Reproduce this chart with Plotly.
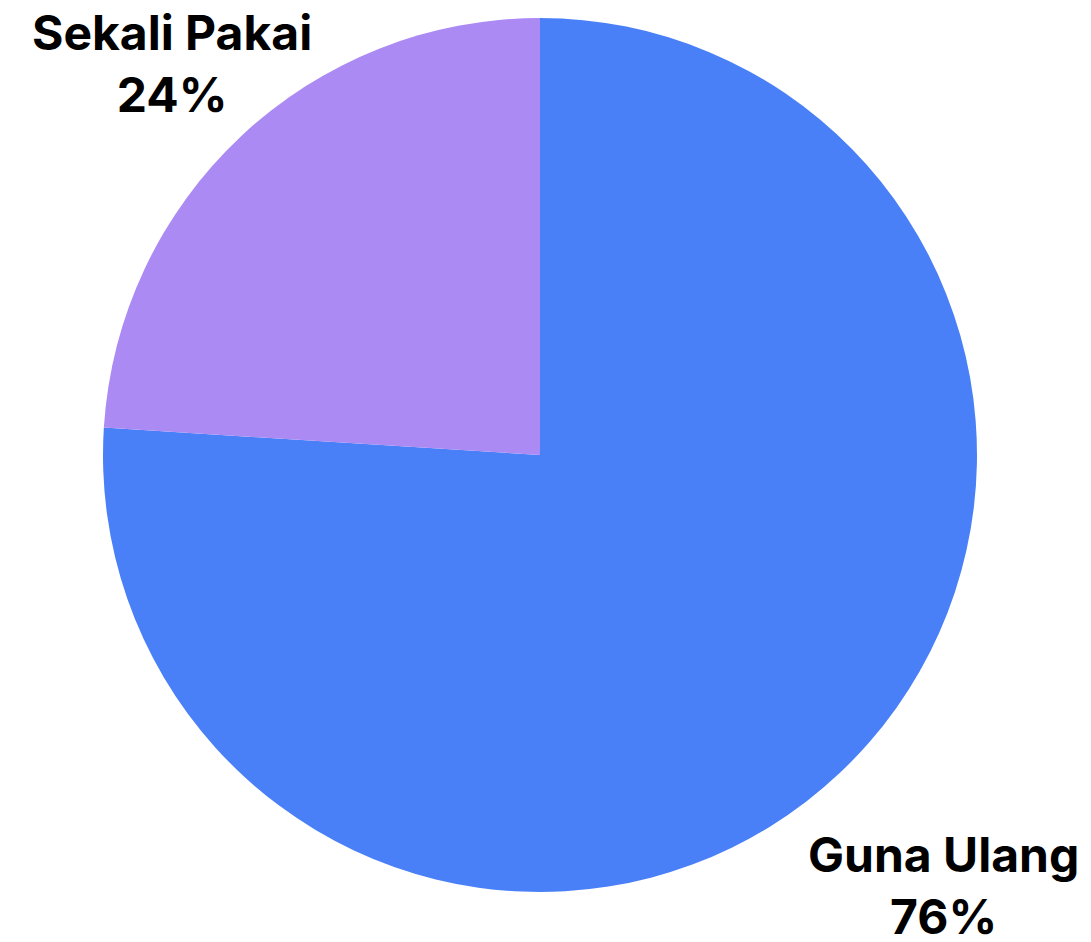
import math
import plotly.graph_objects as go

labels = ["Guna Ulang", "Sekali Pakai"]
values = [76, 24]
colors = ["#4a80f7", "#ab8af4"]

W, H = 1091, 942
# pie centre / radius in figure pixels
cx, cy, R = 532, 447, 437
label_dist = [1.35, 1.229]   # label distance from centre, in radii

fig = go.Figure(go.Pie(
    labels=labels,
    values=values,
    sort=False,
    direction="clockwise",
    rotation=0,
    marker=dict(colors=colors, line=dict(width=0)),
    textinfo="none",
    automargin=False,
    showlegend=False,
    hoverinfo="label+percent",
    domain=dict(x=[(cx - R) / W, (cx + R) / W], y=[1 - (cy + R) / H, 1 - (cy - R) / H]),
))

total = sum(values)
cum = 0.0
for lab, val, d in zip(labels, values, label_dist):
    mid = (cum + val / 2) / total * 2 * math.pi
    cum += val
    px = cx + d * R * math.sin(mid)
    py = cy - d * R * math.cos(mid)
    pct = round(100 * val / total)
    fig.add_annotation(
        x=px / W, y=1 - py / H, xref="paper", yref="paper",
        xanchor="center", yanchor="middle",
        text=f"{lab}<br>{pct}%",
        showarrow=False,
        font=dict(family="Inter", size=48, color="#000000", weight=700),
    )

fig.update_layout(
    width=W, height=H,
    margin=dict(l=0, r=0, t=0, b=0, autoexpand=False),
    paper_bgcolor="white",
    plot_bgcolor="white",
)
fig.write_html("out.html")
